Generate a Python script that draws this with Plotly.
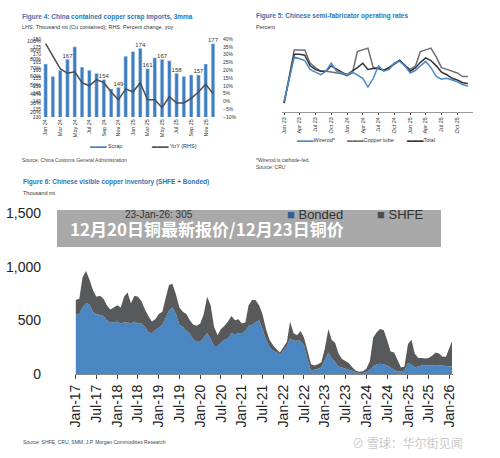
import plotly.graph_objects as go

# Figure 4
f4_months = ["Jan 24","Feb 24","Mar 24","Apr 24","May 24","Jun 24","Jul 24","Aug 24","Sep 24","Oct 24","Nov 24","Dec 24",
             "Jan 25","Feb 25","Mar 25","Apr 25","May 25","Jun 25","Jul 25","Aug 25","Sep 25","Oct 25","Nov 25","Dec 25"]
f4_scrap = [164,156,160,167,175,162,160,158,154,148,149,169,172,174,161,168,167,166,158,156,157,157,164,177]
f4_yoy = [37,29,21,18,19,12,10,14,12,6,1,8,6,12,1,1,-4,3,-1,-1,2,6,11,5]
f4_labeled = {"Apr 24":167,"Sep 24":154,"Nov 24":149,"Feb 25":174,"Mar 25":161,"May 25":167,"Jul 25":158,"Oct 25":157,"Dec 25":177}
f4_ticks = f4_months[::2]
f4_lhs_ticks = [130,135,140,145,150,155,160,165,170,175,180]

# Figure 5
f5_months = ["2023-%02d-01" % m for m in range(1,13)] + ["2024-%02d-01" % m for m in range(1,13)] + ["2025-%02d-01" % m for m in range(1,13)]
f5_wirerod = [32,58,82,80,78,68,65,62,66,75,66,64,62,65,62,58,48,58,72,66,68,75,77,72,64,67,72,77,70,60,57,58,56,54,51,49]
f5_tube = [30,62,90,90,90,75,70,66,66,65,64,63,61,64,88,90,92,70,70,67,70,75,78,72,68,72,88,90,92,82,70,68,66,64,60,60]
f5_total = [30,60,85,85,84,72,68,66,66,72,68,65,62,66,70,75,68,69,69,67,70,74,78,73,66,70,76,81,78,72,65,62,58,56,53,52]

# Figure 6
f6_dates = ["%d-%02d-01" % (y, m) for y in range(2017, 2026) for m in range(1, 13)] + ["2026-01-23"]
f6_total = [690,700,900,960,880,780,720,730,700,640,600,620,
            640,620,720,760,660,730,720,680,600,540,490,510,
            560,580,700,830,840,740,620,580,560,500,460,450,
            470,560,720,640,440,360,420,450,490,540,500,510,
            470,480,640,690,690,640,560,420,320,270,230,200,
            250,300,490,380,360,400,340,220,90,80,90,110,
            240,420,320,290,190,140,120,100,60,30,20,25,
            50,120,340,390,420,410,320,210,200,130,60,70,
            280,320,190,150,150,145,150,170,200,190,160,160,305]
f6_bonded = [550,560,620,660,650,580,560,550,540,500,480,480,
             490,470,480,480,470,490,470,470,440,390,380,410,
             430,460,520,590,620,560,460,440,400,380,320,300,
             300,340,380,330,260,260,290,320,330,380,370,380,
             380,400,450,460,480,500,420,320,250,220,200,180,
             220,260,330,310,310,310,270,140,30,40,50,60,
             130,200,150,110,70,60,50,40,30,15,10,10,
             20,40,70,90,95,90,80,60,40,20,25,30,
             100,90,60,70,80,80,80,80,85,80,80,75,70]
f6_shfe = [t - b for t, b in zip(f6_total, f6_bonded)]

W, H = 500, 458
def xd(a, b): return [a / W, b / W]
def yd(top, bot): return [1 - bot / H, 1 - top / H]

BLUE = "#3f7fc1"; DGRAY = "#4d4d4f"; TBLUE = "#2f74b5"
fig = go.Figure()
fig.add_bar(x=f4_months, y=f4_scrap, marker_color=BLUE, width=0.5, xaxis="x", yaxis="y")
lab_x = [m for m in f4_months if m in f4_labeled]
fig.add_scatter(x=lab_x, y=[f4_labeled[m] for m in lab_x], mode="text", text=[str(f4_labeled[m]) for m in lab_x],
                textposition="top center", textfont=dict(size=6, color="#333"), cliponaxis=False, xaxis="x", yaxis="y")
fig.add_scatter(x=f4_months, y=f4_yoy, mode="lines", line=dict(color=DGRAY, width=1.5), xaxis="x", yaxis="y2")

fig.add_scatter(x=f5_months, y=f5_tube, mode="lines", line=dict(color="#6d6e71", width=1.5), xaxis="x3", yaxis="y3")
fig.add_scatter(x=f5_months, y=f5_total, mode="lines", line=dict(color="#333333", width=1.5), xaxis="x3", yaxis="y3")
fig.add_scatter(x=f5_months, y=f5_wirerod, mode="lines", line=dict(color="#4a8cc9", width=1.5), xaxis="x3", yaxis="y3")

fig.add_scatter(x=f6_dates, y=f6_bonded, stackgroup="a", mode="none", fillcolor="#4a86c2", xaxis="x4", yaxis="y4")
fig.add_scatter(x=f6_dates, y=f6_shfe, stackgroup="a", mode="none", fillcolor="#58595b", xaxis="x4", yaxis="y4")

small = dict(size=5.5, color="#333")
fig.update_layout(
    width=W, height=H, margin=dict(l=0, r=0, t=0, b=0), showlegend=False,
    paper_bgcolor="white", plot_bgcolor="white", font=dict(family="Liberation Sans"),
    xaxis=dict(domain=xd(42, 222), anchor="y", tickvals=f4_ticks, tickangle=-90, tickfont=small, showgrid=False, showline=False, ticks="", automargin=False),
    yaxis=dict(domain=yd(39, 117), range=[130, 180], tickvals=f4_lhs_ticks, tickfont=dict(size=5, color="#333"), showgrid=False, zeroline=False, automargin=False),
    yaxis2=dict(domain=yd(39, 117), overlaying="y", side="right", range=[-10, 40], dtick=5, ticksuffix="%", tickfont=dict(size=5, color="#333"), showgrid=False, zeroline=False, anchor="x", automargin=False),
    xaxis3=dict(domain=xd(282, 473), anchor="y3", tickformat="%b %y", dtick="M3", tick0="2023-01-01", tickangle=-90, tickfont=small, showgrid=False,
                showline=True, linecolor="#999", ticks="outside", ticklen=2, range=["2022-12-20", "2025-12-31"], automargin=False),
    yaxis3=dict(domain=yd(41, 112), range=[20, 100], dtick=10, ticksuffix="%", tickfont=small, showgrid=False, zeroline=False, automargin=False),
    xaxis4=dict(domain=xd(75, 453), anchor="y4", tickformat="%b-%y", dtick="M6", tick0="2017-01-01", tickangle=-90,
                tickfont=dict(size=14, color="#222"), showgrid=False, showline=True, linecolor="#888", ticks="outside", ticklen=4,
                range=["2016-12-25", "2026-02-01"], automargin=False),
    yaxis4=dict(domain=yd(213, 374), range=[0, 1500], tickvals=[0, 500, 1000, 1500], ticktext=["0", "500", "1,000", "1,500"],
                tickfont=dict(size=14, color="#222"), showgrid=False, zeroline=False, automargin=False),
)
ann = [
    dict(x=20/W, y=1-17/H, text="<b>Figure 4: China contained copper scrap imports, 3mma</b>", font=dict(size=6.5, color=TBLUE)),
    dict(x=20/W, y=1-27/H, text="LHS: Thousand mt (Cu contained); RHS: Percent change, yoy", font=small),
    dict(x=88/W, y=1-146/H, text="<span style='color:#3f7fc1'>▬▬▬</span> Scrap", font=small),
    dict(x=150/W, y=1-146/H, text="<span style='color:#4d4d4f'>▬▬▬</span> YoY (RHS)", font=small),
    dict(x=20/W, y=1-160/H, text="Source: China Customs General Administration", font=dict(size=5, color="#444")),
    dict(x=254/W, y=1-16/H, text="<b>Figure 5: Chinese semi-fabricator operating rates</b>", font=dict(size=6.5, color=TBLUE)),
    dict(x=254/W, y=1-27/H, text="Percent", font=small),
    dict(x=295/W, y=1-140/H, text="<span style='color:#4a8cc9'>▬▬▬</span>Wirerod*", font=small),
    dict(x=345/W, y=1-140/H, text="<span style='color:#6d6e71'>▬▬▬</span>Copper tube", font=small),
    dict(x=405/W, y=1-140/H, text="<span style='color:#333'>▬▬▬</span>Total", font=small),
    dict(x=254/W, y=1-164/H, text="*Wirerod is cathode-fed.<br>Source: CRU", font=dict(size=5, color="#444"), align="left"),
    dict(x=21/W, y=1-182/H, text="<b>Figure 6: Chinese visible copper inventory (SHFE + Bonded)</b>", font=dict(size=6.5, color=TBLUE)),
    dict(x=21/W, y=1-193/H, text="Thousand mt", font=dict(size=5.5, color="#333")),
    dict(x=123/W, y=1-214/H, text="23-Jan-26: 305", font=dict(size=10, color="#333")),
    dict(x=285/W, y=1-214/H, text="<span style='color:#2f5f96'>■</span> Bonded", font=dict(size=13, color="#333")),
    dict(x=375/W, y=1-214/H, text="<span style='color:#4d4d4f'>■</span> SHFE", font=dict(size=13, color="#333")),
    dict(x=21/W, y=1-442/H, text="Source: SHFE, CRU, SMM, J.P. Morgan Commodities Research", font=dict(size=5, color="#444")),
    dict(x=350/W, y=1-442/H, text="⊘ 雪球：华尔街见闻", font=dict(size=12, color="#c8c8c8", family="Noto Sans CJK SC")),
    dict(x=68/W, y=1-228/H, text="<b>12月20日铜最新报价/12月23日铜价</b>", font=dict(size=17, color="white", family="Noto Sans CJK SC")),
]
for a in ann:
    a.update(xref="paper", yref="paper", xanchor="left", yanchor="middle", showarrow=False)
fig.update_layout(annotations=ann, shapes=[dict(type="rect", xref="paper", yref="paper", x0=57/W, x1=441/W, y0=1-247/H, y1=1-210/H,
                                                fillcolor="rgba(140,140,140,0.75)", line_width=0, layer="above")])
fig.write_html("out.html", config={"displayModeBar": False},
               post_script="document.body.style.margin='0';document.body.style.overflow='hidden';")
